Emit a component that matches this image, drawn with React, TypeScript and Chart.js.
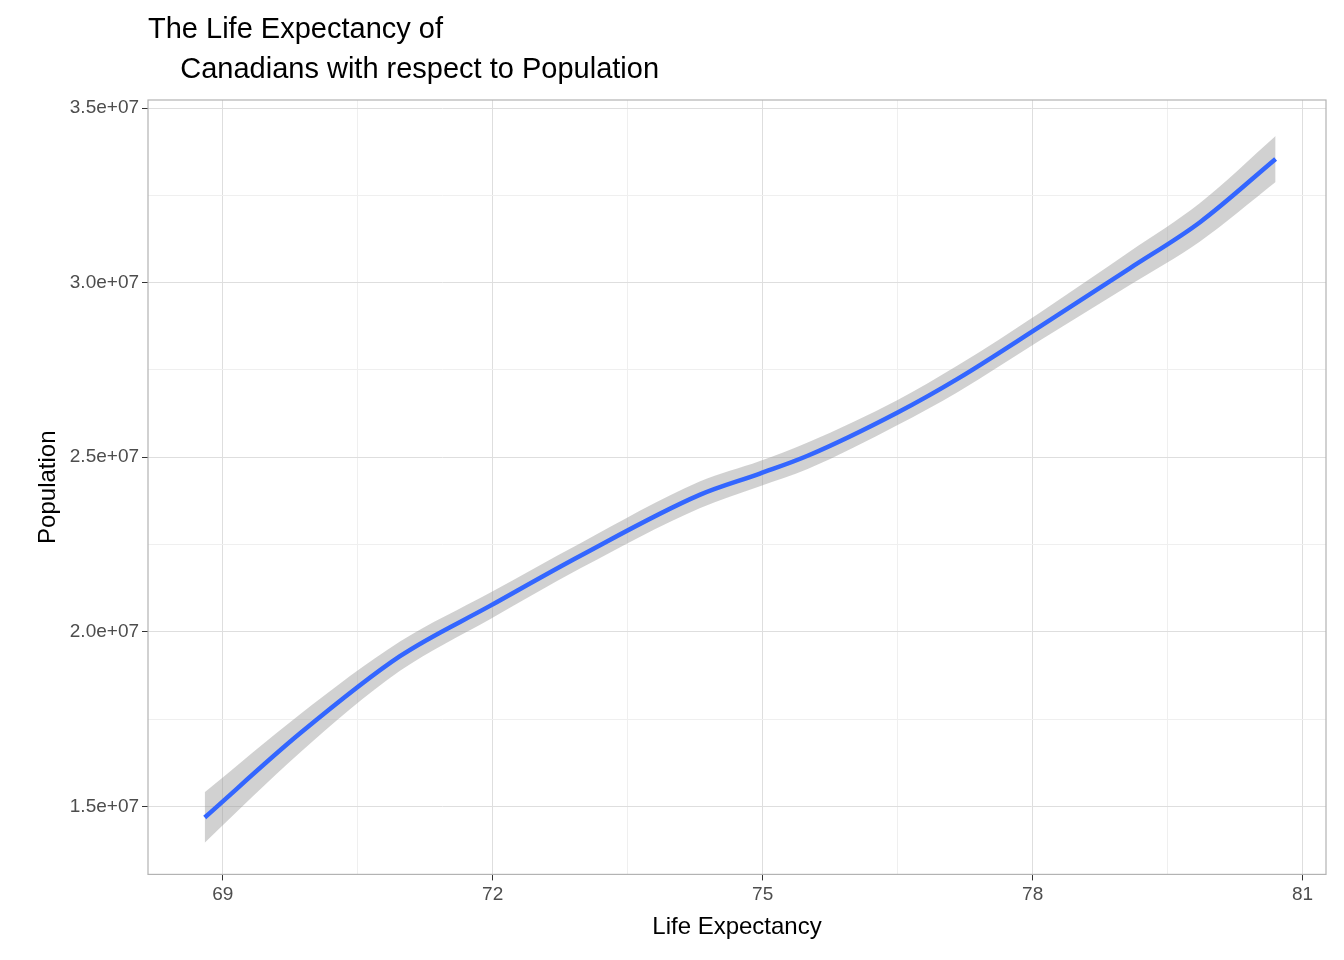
import React, { useEffect, useRef } from "react";
import Chart from "chart.js/auto";

const lifeExp = [68.8, 69.86, 70.97, 71.97, 72.97, 74.3, 74.97, 75.5, 76.5, 77.17, 78.08, 79.08, 79.86, 80.7];
const population = [14.68e6, 17.09e6, 19.3e6, 20.74e6, 22.17e6, 23.92e6, 24.53e6, 25.04e6, 26.28e6, 27.25e6, 28.74e6, 30.41e6, 31.73e6, 33.54e6];
const halfBand = [0.72e6, 0.55e6, 0.42e6, 0.38e6, 0.36e6, 0.38e6, 0.36e6, 0.38e6, 0.36e6, 0.38e6, 0.4e6, 0.48e6, 0.55e6, 0.66e6];
const xTicks = [69, 70.5, 72, 73.5, 75, 76.5, 78, 79.5, 81];
const yTicks = [15e6, 17.5e6, 20e6, 22.5e6, 25e6, 27.5e6, 30e6, 32.5e6, 35e6];
const yLabels = ["1.5e+07", "2.0e+07", "2.5e+07", "3.0e+07", "3.5e+07"];
const titleLines = ["The Life Expectancy of", "    Canadians with respect to Population"];

const isMajorX = (v: number) => Number.isInteger(v / 3);
const isMajorY = (v: number) => Math.round(v / 1e6) % 5 === 0;
const FONT = "'Liberation Sans', Arial, sans-serif";

const frame = {
  id: "frame",
  afterDraw(chart: any) {
    const { ctx, chartArea: a } = chart;
    ctx.save();
    ctx.strokeStyle = "#b3b3b3";
    ctx.lineWidth = 1.2;
    ctx.strokeRect(a.left, a.top, a.right - a.left, a.bottom - a.top);
    ctx.fillStyle = "#000";
    ctx.font = "29px " + FONT;
    ctx.textBaseline = "alphabetic";
    ctx.fillText(titleLines[0], a.left, 38);
    ctx.fillText(titleLines[1], a.left, 78);
    ctx.restore();
  },
};

const App: React.FC = () => {
  const ref = useRef<HTMLCanvasElement | null>(null);

  useEffect(() => {
    document.body.style.margin = "0";
    if (!ref.current) return;
    const pts = (vals: number[]) => lifeExp.map((x, i) => ({ x, y: vals[i] }));
    const upper = population.map((p, i) => p + halfBand[i]);
    const lower = population.map((p, i) => p - halfBand[i]);
    const chart = new Chart(ref.current, {
      type: "line",
      data: {
        datasets: [
          { data: pts(upper), borderWidth: 0, pointRadius: 0, cubicInterpolationMode: "monotone", fill: false, order: 2 },
          { data: pts(lower), borderWidth: 0, pointRadius: 0, cubicInterpolationMode: "monotone", fill: "-1", backgroundColor: "rgba(153,153,153,0.45)", order: 2 },
          { data: pts(population), borderColor: "#3366FF", borderWidth: 4.5, pointRadius: 0, cubicInterpolationMode: "monotone", fill: false, order: 0 },
        ],
      },
      options: {
        animation: false,
        responsive: false,
        layout: { padding: { top: 100, right: 18, left: 30, bottom: 14 } },
        plugins: { legend: { display: false }, tooltip: { enabled: false } },
        scales: {
          x: {
            type: "linear",
            min: 68.17,
            max: 81.26,
            afterBuildTicks: (s: any) => { s.ticks = xTicks.map((value) => ({ value })); },
            ticks: {
              autoSkip: false,
              maxRotation: 0,
              color: "#4d4d4d",
              font: { size: 19, family: FONT },
              callback: (v: any) => (isMajorX(Number(v)) ? String(v) : ""),
            },
            grid: {
              color: (c: any) => (isMajorX(c.tick.value) ? "#dedede" : "#efefef"),
              tickColor: (c: any) => (isMajorX(c.tick.value) ? "#333" : "rgba(0,0,0,0)"),
              tickLength: 6,
            },
            border: { display: false },
            title: { display: true, text: "Life Expectancy", color: "#000", font: { size: 24, family: FONT } },
          },
          y: {
            type: "linear",
            min: 13.05e6,
            max: 35.23e6,
            afterBuildTicks: (s: any) => { s.ticks = yTicks.map((value) => ({ value })); },
            ticks: {
              autoSkip: false,
              color: "#4d4d4d",
              font: { size: 19, family: FONT },
              callback: (v: any) => (isMajorY(Number(v)) ? yLabels[Math.round((Number(v) - 15e6) / 5e6)] : ""),
            },
            grid: {
              color: (c: any) => (isMajorY(c.tick.value) ? "#dedede" : "#efefef"),
              tickColor: (c: any) => (isMajorY(c.tick.value) ? "#333" : "rgba(0,0,0,0)"),
              tickLength: 6,
            },
            border: { display: false },
            title: { display: true, text: "Population", color: "#000", font: { size: 24, family: FONT } },
          },
        },
      },
      plugins: [frame],
    });
    return () => chart.destroy();
  }, []);

  return <canvas ref={ref} width={1344} height={960} style={{ display: "block" }} />;
};

export default App;
